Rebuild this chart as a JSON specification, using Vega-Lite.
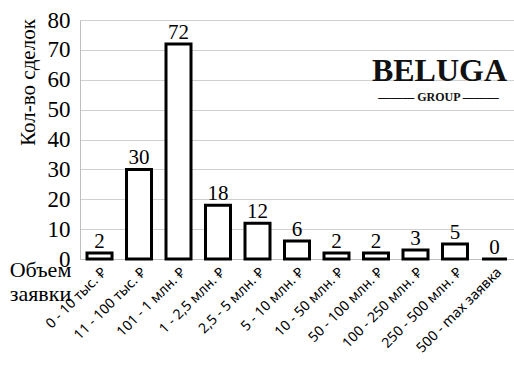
{
  "$schema": "https://vega.github.io/schema/vega-lite/v6.json",
  "width": 434,
  "height": 239,
  "autosize": "none",
  "padding": {"left": 80, "top": 20, "right": 0, "bottom": 107},
  "background": "white",
  "config": {
    "view": {"stroke": null},
    "axisY": {
      "values": [0, 10, 20, 30, 40, 50, 60, 70, 80],
      "grid": true, "gridColor": "#d0d0d0", "gridWidth": 1,
      "titleFont": "Liberation Serif", "titleFontSize": 21, "titleFontWeight": "normal",
      "titleColor": "black", "titleX": -52, "titleY": 62, "titleAngle": -90,
      "titleAlign": "center", "titleBaseline": "middle",
      "labelFont": "Liberation Serif", "labelFontSize": 23, "labelColor": "black",
      "labelPadding": 10, "labelOverlap": false, "labelBaseline": "middle",
      "labelFlush": false,
      "ticks": false, "domainColor": "#bfbfbf"
    },
    "axisX": {
      "titleFont": "Liberation Serif", "titleFontSize": 22, "titleFontWeight": "normal",
      "titleColor": "black", "titleX": -40, "titleY": 0, "titleAlign": "center",
      "titleBaseline": "top", "titleLineHeight": 24, "titleAngle": 0,
      "labelAngle": -45, "labelFont": "Noto Sans", "labelFontSize": 14,
      "labelColor": "black", "labelAlign": "right", "labelBaseline": "top",
      "labelPadding": 6, "labelOverlap": false, "ticks": false,
      "domainColor": "#bfbfbf", "domainWidth": 1, "grid": false
    }
  },
  "datasets": {
    "deals": [
      {"cat": "0 - 10 тыс. ₽", "n": 2},
      {"cat": "11 - 100 тыс. ₽", "n": 30},
      {"cat": "101 - 1 млн. ₽", "n": 72},
      {"cat": "1 - 2,5 млн. ₽", "n": 18},
      {"cat": "2,5 - 5 млн. ₽", "n": 12},
      {"cat": "5 - 10 млн. ₽", "n": 6},
      {"cat": "10 - 50 млн. ₽", "n": 2},
      {"cat": "50 - 100 млн. ₽", "n": 2},
      {"cat": "100 - 250 млн. ₽", "n": 3},
      {"cat": "250 - 500 млн. ₽", "n": 5},
      {"cat": "500 - max заявка", "n": 0}
    ],
    "logo": [
      {"cat": "100 - 250 млн. ₽", "n": 62.8, "t": "BELUGA", "part": "big"},
      {"cat": "100 - 250 млн. ₽", "n": 54.2, "t": "——— GROUP ———", "part": "small"}
    ]
  },
  "encoding": {
    "x": {
      "field": "cat", "type": "nominal", "sort": null,
      "scale": {"paddingInner": 0.3, "paddingOuter": 0.144},
      "axis": {"title": ["Объем", "заявки"]}
    },
    "y": {
      "field": "n", "type": "quantitative",
      "scale": {"domain": [0, 80]},
      "axis": {"title": "Кол-во сделок"}
    }
  },
  "layer": [
    {
      "data": {"name": "deals"},
      "mark": {"type": "bar", "fill": "white", "stroke": "black", "strokeWidth": 3, "width": 25}
    },
    {
      "data": {"name": "deals"},
      "mark": {"type": "text", "font": "Liberation Serif", "fontSize": 21, "baseline": "alphabetic", "dy": -5, "color": "black"},
      "encoding": {
        "text": {"field": "n", "type": "quantitative"}
      }
    },
    {
      "data": {"name": "logo"},
      "transform": [{"filter": "datum.part == 'big'"}],
      "mark": {"type": "text", "font": "Liberation Serif", "fontSize": 32, "fontWeight": "bold", "baseline": "middle", "dx": 24, "color": "#111"},
      "encoding": {
        "text": {"field": "t"}
      }
    },
    {
      "data": {"name": "logo"},
      "transform": [{"filter": "datum.part == 'small'"}],
      "mark": {"type": "text", "font": "Liberation Serif", "fontSize": 12, "fontWeight": "bold", "baseline": "middle", "dx": 23, "color": "#111"},
      "encoding": {
        "text": {"field": "t"}
      }
    }
  ]
}
